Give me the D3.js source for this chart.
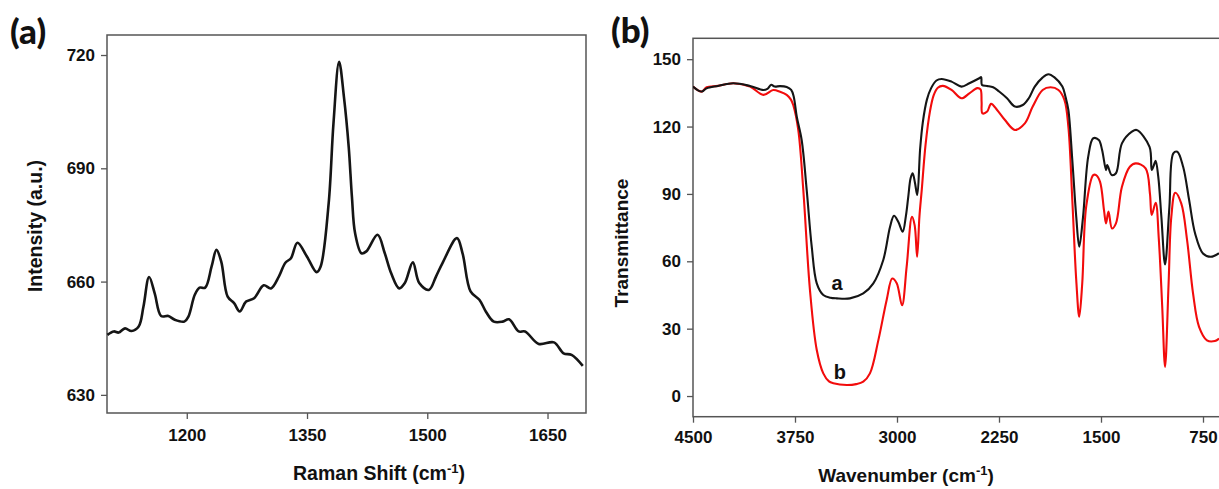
<!DOCTYPE html>
<html>
<head>
<meta charset="utf-8">
<title>Raman and FTIR spectra</title>
<script src="https://d3js.org/d3.v7.min.js"></script>
<style>
  body { margin: 0; background: #fff; }
  svg text { font-family: "Liberation Sans", Arial, sans-serif; font-weight: bold; }
  svg text.panel { font-family: Lato, "Open Sans", sans-serif; font-weight: 900; }
</style>
</head>
<body>
<script>
// ---- (a) Raman spectrum ----
var ramanShift = [1101,1109,1115,1123,1131,1140,1146,1153,1160,1168,1177,1185,1197,1202,1210,1216,1223,1231,1237,1243,
  1251,1259,1266,1274,1284,1296,1305,1315,1323,1330,1338,1350,1362,1367,1377,1383,1390,1396,1402,1406,1410,1418,1424,
  1438,1447,1455,1465,1472,1482,1490,1502,1511,1519,1537,1544,1554,1565,1573,1583,1594,1602,1614,1622,1639,1658,1670,1680,1694];
var ramanIntensity = [645.9,646.8,646.5,647.6,646.9,648.1,653.4,661.2,656.9,650.9,650.9,649.9,649.4,650.7,656.5,658.4,658.4,664.0,668.4,665.3,
  656.0,654.3,652.1,654.7,655.6,659.0,658.2,661.4,665.0,666.2,670.3,666.6,662.5,664.0,680.7,701.9,718.2,709.0,695.7,682.5,672.8,667.5,668.0,
  672.4,667.5,662.2,658.2,659.6,665.1,659.6,657.8,661.4,664.9,671.5,667.5,657.4,655.2,652.1,649.4,649.4,650.0,646.8,646.8,643.5,643.9,641.0,640.6,637.7];
var ramanXTicks = [1200, 1350, 1500, 1650];
var ramanYTicks = [630, 660, 690, 720];

// ---- (b) FTIR spectra, curve a (black) ----
var ftirWnA = [4500,4460,4433,4400,4317,4204,4081,3983,3953,3925,3900,3860,3811,3778,3760,3737,3701,3664,3627,3590,3542,3490,3443,
  3346,3248,3174,3101,3051,3022,2990,2958,2935,2917,2900,2885,2868,2851,2830,2810,2780,2750,2710,2672,2599,2526,2468,2395,2381,
  2375,2337,2293,2249,2191,2133,2075,2031,1987,1930,1887,1842,1784,1760,1740,1711,1682,1660,1632,1594,1557,1516,1492,1463,1454,
  1421,1390,1346,1273,1238,1143,1127,1110,1098,1079,1056,1029,997,968,939,896,852,808,750,692,632];
var ftirTA = [137.8,136.0,135.6,137.0,138.1,139.3,138.1,136.3,136.8,138.6,137.8,138.0,137.6,136.3,133.5,124.4,114.0,91.8,66.5,50.2,45.0,43.8,43.5,
  43.5,45.7,50.2,60.6,75.4,80.3,77.5,73.2,80.0,88.8,97.0,99.2,95.0,89.5,110.0,122.0,132.0,137.0,140.5,141.2,140.0,137.8,139.3,141.5,142.0,
  138.5,138.1,137.5,135.6,132.6,128.9,129.6,132.6,137.8,141.8,143.3,141.9,137.8,133.0,127.4,105.1,79.8,66.5,79.8,106.6,114.8,114.0,109.6,100.6,102.9,
  98.4,99.2,112.5,117.7,118.5,111.0,100.7,103.0,104.8,97.7,79.8,58.6,84.3,108.1,108.8,102.1,87.3,72.4,63.5,62.0,63.6];

// ---- (b) FTIR spectra, curve b (red) ----
var ftirWnB = [4500,4460,4433,4400,4317,4204,4081,3983,3910,3860,3811,3780,3763,3726,3689,3640,3590,3542,3500,3468,3370,3300,3248,
  3199,3137,3076,3035,3002,2963,2929,2890,2870,2852,2835,2818,2790,2757,2730,2700,2663,2599,2526,2468,2410,2386,2378,2372,2337,
  2308,2264,2206,2133,2060,2002,1929,1871,1813,1769,1740,1711,1682,1660,1638,1609,1557,1536,1507,1478,1463,1445,1419,1390,1346,
  1288,1244,1172,1140,1127,1098,1075,1050,1029,1003,983,954,910,867,823,779,721,663,632];
var ftirTB = [137.8,136.0,135.6,137.5,138.1,139.3,137.8,134.1,136.3,135.5,134.1,132.0,129.6,118.5,91.8,47.2,20.5,10.1,6.5,5.7,4.9,5.3,6.4,
  10.1,24.9,42.8,52.3,50.2,40.4,57.6,79.8,76.0,62.0,80.0,91.8,112.0,127.0,134.0,137.3,138.1,136.3,132.6,134.8,137.1,136.6,131.0,125.9,126.7,
  130.1,127.4,122.9,118.5,121.4,128.9,136.3,137.5,136.3,131.9,120.0,87.3,51.6,35.3,50.1,84.3,98.4,98.4,95.4,82.8,76.9,82.1,74.6,76.9,93.2,
  102.1,103.6,101.4,90.0,80.6,86.1,70.0,40.0,13.0,50.1,79.8,90.5,85.8,69.4,45.6,30.8,24.8,24.5,25.6];
var ftirXTicks = [4500, 3750, 3000, 2250, 1500, 750];
var ftirYTicks = [0, 30, 60, 90, 120, 150];
var curveLabels = [{text: "a", wn: 3440, t: 50.5}, {text: "b", wn: 3420, t: 10.8}];

var W = 1219, H = 489;
var svg = d3.select("body").append("svg").attr("width", W).attr("height", H);

var axisColor = "#555";

function styleAxis(g) {
  g.select(".domain").remove();
  g.selectAll(".tick line").attr("stroke", axisColor).attr("stroke-width", 1.3);
  g.selectAll(".tick text").attr("fill", "#111").style("font-size", "17px");
}

// ================= panel (a) =================
var xa = d3.scaleLinear().domain([1100.5, 1698]).range([107, 586]);
var ya = d3.scaleLinear().domain([625.2, 725.3]).range([413, 35]);

svg.append("text").attr("class", "panel").attr("x", 10).attr("y", 44).style("font-size", "35px").attr("fill", "#111").text("(a)");

svg.append("g").attr("transform", "translate(0,413)")
    .call(d3.axisBottom(xa).tickValues(ramanXTicks).tickSize(6).tickPadding(10).tickFormat(d3.format("d")))
    .call(styleAxis);
svg.append("g").attr("transform", "translate(107,0)")
    .call(d3.axisLeft(ya).tickValues(ramanYTicks).tickSize(6).tickPadding(6).tickFormat(d3.format("d")))
    .call(styleAxis);

svg.append("rect")
    .attr("x", xa.range()[0]).attr("y", ya.range()[1])
    .attr("width", xa.range()[1] - xa.range()[0]).attr("height", ya.range()[0] - ya.range()[1])
    .attr("fill", "none").attr("stroke", axisColor).attr("stroke-width", 1.5);

var lineA = d3.line()
    .x(function(d, i) { return xa(ramanShift[i]); })
    .y(function(d) { return ya(d); })
    .curve(d3.curveCatmullRom.alpha(0.5));

svg.append("path").datum(ramanIntensity)
    .attr("d", lineA).attr("fill", "none").attr("stroke", "#151515").attr("stroke-width", 2.6);

svg.append("text").attr("x", 379).attr("y", 480).attr("text-anchor", "middle").style("font-size", "19.5px").attr("fill", "#111")
    .call(function(t) {
      t.append("tspan").text("Raman Shift (cm");
      t.append("tspan").attr("dy", -7).style("font-size", "13px").text("-1");
      t.append("tspan").attr("dy", 7).text(")");
    });
svg.append("text").attr("transform", "translate(42,226) rotate(-90)").attr("text-anchor", "middle")
    .style("font-size", "19.5px").attr("fill", "#111").text("Intensity (a.u.)");

// ================= panel (b) =================
var xb = d3.scaleLinear().domain([4500, 400]).range([693, 693 + 4100 * 0.136]);
var yb = d3.scaleLinear().domain([-9.2, 159.3]).range([416.7, 38.3]);

svg.append("defs").append("clipPath").attr("id", "clipB")
  .append("rect").attr("x", 693).attr("y", 38.3).attr("width", W - 693).attr("height", 416.7 - 38.3);

svg.append("text").attr("class", "panel").attr("x", 611).attr("y", 43).style("font-size", "35px").attr("fill", "#111").text("(b)");

svg.append("g").attr("transform", "translate(0,416.7)")
    .call(d3.axisBottom(xb).tickValues(ftirXTicks).tickSize(6).tickPadding(8).tickFormat(d3.format("d")))
    .call(styleAxis);
svg.append("g").attr("transform", "translate(693,0)")
    .call(d3.axisLeft(yb).tickValues(ftirYTicks).tickSize(6).tickPadding(6).tickFormat(d3.format("d")))
    .call(styleAxis);

svg.append("rect")
    .attr("x", 693).attr("y", 38.3).attr("width", xb.range()[1] - 693).attr("height", 416.7 - 38.3)
    .attr("fill", "none").attr("stroke", axisColor).attr("stroke-width", 1.5);

var gb = svg.append("g").attr("clip-path", "url(#clipB)");

function ftirLine(wn) {
  return d3.line()
    .x(function(d, i) { return xb(wn[i]); })
    .y(function(d) { return yb(d); })
    .curve(d3.curveCatmullRom.alpha(0.5));
}

gb.append("path").datum(ftirTB)
    .attr("d", ftirLine(ftirWnB)).attr("fill", "none").attr("stroke", "#f20c0c").attr("stroke-width", 2.1);
gb.append("path").datum(ftirTA)
    .attr("d", ftirLine(ftirWnA)).attr("fill", "none").attr("stroke", "#151515").attr("stroke-width", 2.1);

svg.selectAll(".clabel").data(curveLabels).enter().append("text")
    .attr("class", "clabel")
    .attr("x", function(d) { return xb(d.wn); })
    .attr("y", function(d) { return yb(d.t); })
    .attr("text-anchor", "middle").attr("dominant-baseline", "central")
    .style("font-size", "20px").attr("fill", "#111")
    .text(function(d) { return d.text; });

svg.append("text").attr("x", 906).attr("y", 482).attr("text-anchor", "middle").style("font-size", "19px").attr("fill", "#111")
    .call(function(t) {
      t.append("tspan").text("Wavenumber (cm");
      t.append("tspan").attr("dy", -7).style("font-size", "13px").text("-1");
      t.append("tspan").attr("dy", 7).text(")");
    });
svg.append("text").attr("transform", "translate(628,243) rotate(-90)").attr("text-anchor", "middle")
    .style("font-size", "19px").attr("fill", "#111").text("Transmittance");
</script>
</body>
</html>
